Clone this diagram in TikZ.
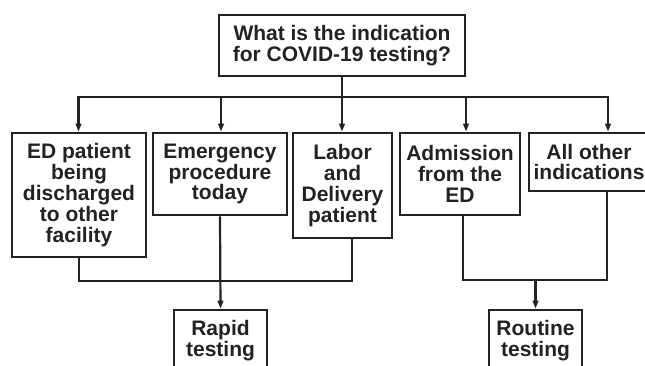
\documentclass[tikz,border=0pt]{standalone}
\usepackage{fontspec}
\setmainfont{Liberation Sans}
\usetikzlibrary{arrows.meta,positioning}
\definecolor{ink}{HTML}{222222}
\tikzset{
  box/.style={draw=ink,line width=2.6pt,align=center,inner sep=1pt,text=ink,font=\fontsize{21}{20.8}\selectfont\bfseries},
  wire/.style={draw=ink,line width=2.2pt},
  arr/.style={wire,-{Triangle[length=8pt,width=5.5pt]}}
}

\begin{document}
\begin{tikzpicture}[x=1pt,y=-1pt]
\useasboundingbox (0,0) rectangle (645,365);
\clip (0,0) rectangle (645,365);
% question and the five indications
\node[box,minimum width=246pt,minimum height=61pt] (q) at (342,45.5) {What is the indication\\for COVID-19 testing?};
\node[box,minimum width=134pt,minimum height=124pt] (b1) at (79,195) {ED patient\\being\\discharged\\to other\\facility};
\node[box,minimum width=134pt,minimum height=82pt] (b2) at (220,174) {Emergency\\procedure\\today};
\node[box,minimum width=99pt,minimum height=105pt] (b3) at (342.5,185.5) {Labor\\and\\Delivery\\patient};
\node[box,minimum width=120pt,minimum height=82pt] (b4) at (460,174) {Admission\\from the\\ED};
\node[box,minimum width=120pt,minimum height=58pt] (b5) at (589,162) {All other\\indications};
% outcomes
\node[box,minimum width=93pt,minimum height=62pt] (rapid) at (220.5,341) {Rapid\\testing};
\node[box,minimum width=93pt,minimum height=62pt] (routine) at (535.5,341) {Routine\\testing};
% fan-out
\coordinate (j1) at (78.5,97);
\coordinate (j2) at (221,97);
\coordinate (j3) at (342,97);
\coordinate (j4) at (466,97);
\coordinate (j5) at (608,97);
\draw[wire] (q.south) -- (j3);
\draw[arr] (j3) -| (j1 |- b1.north);
\draw[arr] (j3) -| (j5 |- b5.north);
\draw[arr] (j2) -- (j2 |- b2.north);
\draw[arr] (j3) -- (j3 |- b3.north);
\draw[arr] (j4) -- (j4 |- b4.north);
% merge to rapid
\coordinate (k3) at (352,281);
\draw[wire] (b1.south) |- (k3) -- (k3 |- b3.south);
\draw[arr] (b2.south) -- (rapid.north);
% merge to routine
\coordinate (k4) at (463,280);
\coordinate (k5) at (607,280);
\coordinate (k6) at (535.5,280);
\draw[wire] (k4 |- b4.south) |- (k5) -- (k5 |- b5.south);
\draw[arr] (k6) -- (routine.north);
\end{tikzpicture}
\end{document}
